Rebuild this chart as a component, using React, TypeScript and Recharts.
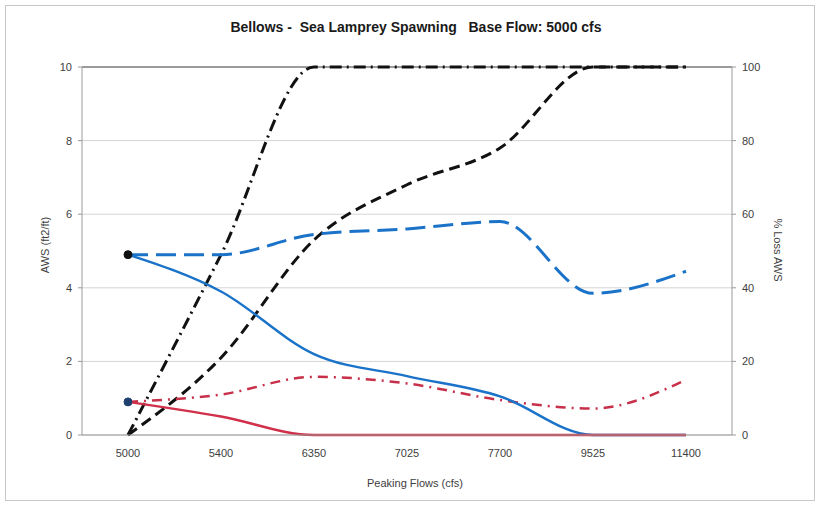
import React from "react";
import {
  LineChart,
  Line,
  XAxis,
  YAxis,
  CartesianGrid,
  ReferenceLine,
} from "recharts";

// peaking flow scenarios (cfs)
const flows = ["5000", "5400", "6350", "7025", "7700", "9525", "11400"];

// AWS (ft2/ft), left axis
const awsBlue = [4.9, 3.9, 2.2, 1.6, 1.05, 0, 0];
const awsRed = [0.9, 0.5, 0, 0, 0, 0, 0];
const awsBlueDashed = [4.9, 4.9, 5.45, 5.6, 5.8, 3.85, 4.45];
const awsRedDashDot = [0.9, 1.1, 1.58, 1.4, 0.95, 0.72, 1.5];

// % Loss AWS, right axis
const lossDashed = [0, 21, 53, 68, 78, 100, 100];
const lossDashDot = [0, 49, 100, 100, 100, 100, 100];

const leftTicks = [0, 2, 4, 6, 8, 10];
const rightTicks = [0, 20, 40, 60, 80, 100];

const chartData = flows.map((flow, i) => ({
  flow,
  awsBlue: awsBlue[i],
  awsRed: awsRed[i],
  awsBlueDashed: awsBlueDashed[i],
  awsRedDashDot: awsRedDashDot[i],
  lossDashed: lossDashed[i],
  lossDashDot: lossDashDot[i],
}));

const font = "'Liberation Sans', Arial, sans-serif";
const tickStyle = { fill: "#404040", fontSize: 11, fontFamily: font };

const firstDot = (color: string) => (props: any) => {
  if (props.index !== 0) return <g key={`d-${props.index}`} />;
  return (
    <circle
      key={`d-${props.index}`}
      cx={props.cx}
      cy={props.cy}
      r={4}
      fill={color}
      stroke={color}
    />
  );
};

export default function App() {
  return (
    <div
      style={{
        position: "absolute",
        left: 0,
        top: 0,
        width: 818,
        height: 505,
        background: "#fff",
        fontFamily: font,
      }}
    >
      <div
        style={{
          position: "absolute",
          left: 5,
          top: 5,
          width: 808,
          height: 494,
          border: "1px solid #c8c8c8",
        }}
      />
      <div
        style={{
          position: "absolute",
          left: 0,
          width: 832,
          top: 19,
          textAlign: "center",
          fontSize: 14,
          fontWeight: "bold",
          whiteSpace: "pre",
          color: "#1a1a1a",
        }}
      >
        {"Bellows -  Sea Lamprey Spawning   Base Flow: 5000 cfs"}
      </div>
      <div
        style={{
          position: "absolute",
          left: 45,
          top: 245,
          transform: "translate(-50%, -50%) rotate(-90deg)",
          fontSize: 11,
          whiteSpace: "nowrap",
          color: "#404040",
        }}
      >
        AWS (ft2/ft)
      </div>
      <div
        style={{
          position: "absolute",
          left: 778,
          top: 250,
          transform: "translate(-50%, -50%) rotate(90deg)",
          fontSize: 11,
          whiteSpace: "nowrap",
          color: "#404040",
        }}
      >
        % Loss AWS
      </div>
      <div
        style={{
          position: "absolute",
          left: 0,
          width: 830,
          top: 477,
          textAlign: "center",
          fontSize: 11,
          color: "#404040",
        }}
      >
        Peaking Flows (cfs)
      </div>
      <LineChart
        width={818}
        height={505}
        data={chartData}
        margin={{ top: 67, right: 0, bottom: 40, left: 0 }}
        style={{ position: "absolute", left: 0, top: 0 }}
      >
        <CartesianGrid
          yAxisId="aws"
          vertical={false}
          stroke="#d4d4d4"
        />
        <XAxis
          dataKey="flow"
          height={30}
          padding={{ left: 46, right: 46 }}
          axisLine={{ stroke: "#9a9a9a" }}
          tickLine={false}
          tick={tickStyle}
          tickMargin={8}
        />
        <YAxis
          yAxisId="aws"
          domain={[0, 10]}
          ticks={leftTicks}
          width={82}
          axisLine={{ stroke: "#9a9a9a" }}
          tickLine={{ stroke: "#9a9a9a" }}
          tickSize={4}
          tickMargin={6}
          tick={tickStyle}
        />
        <YAxis
          yAxisId="loss"
          orientation="right"
          domain={[0, 100]}
          ticks={rightTicks}
          width={86}
          axisLine={{ stroke: "#9a9a9a" }}
          tickLine={{ stroke: "#9a9a9a" }}
          tickSize={4}
          tickMargin={6}
          tick={tickStyle}
        />
        <ReferenceLine yAxisId="aws" y={10} stroke="#808080" strokeWidth={1.5} />
        <Line
          yAxisId="loss"
          type="monotone"
          dataKey="lossDashDot"
          stroke="#111"
          strokeWidth={3}
          strokeDasharray="12 5 2 5"
          dot={false}
          isAnimationActive={false}
        />
        <Line
          yAxisId="loss"
          type="monotone"
          dataKey="lossDashed"
          stroke="#111"
          strokeWidth={3}
          strokeDasharray="11 6"
          dot={false}
          isAnimationActive={false}
        />
        <Line
          yAxisId="aws"
          type="monotone"
          dataKey="awsBlueDashed"
          stroke="#1a73c8"
          strokeWidth={3}
          strokeDasharray="20 8"
          dot={false}
          isAnimationActive={false}
        />
        <Line
          yAxisId="aws"
          type="monotone"
          dataKey="awsRedDashDot"
          stroke="#c8304a"
          strokeWidth={2.5}
          strokeDasharray="10 6 2 6"
          dot={false}
          isAnimationActive={false}
        />
        <Line
          yAxisId="aws"
          type="monotone"
          dataKey="awsBlue"
          stroke="#1a73c8"
          strokeWidth={2.5}
          dot={firstDot("#111")}
          isAnimationActive={false}
        />
        <Line
          yAxisId="aws"
          type="monotone"
          dataKey="awsRed"
          stroke="#d0304a"
          strokeWidth={2.5}
          dot={firstDot("#1f3f6e")}
          isAnimationActive={false}
        />
      </LineChart>
    </div>
  );
}
